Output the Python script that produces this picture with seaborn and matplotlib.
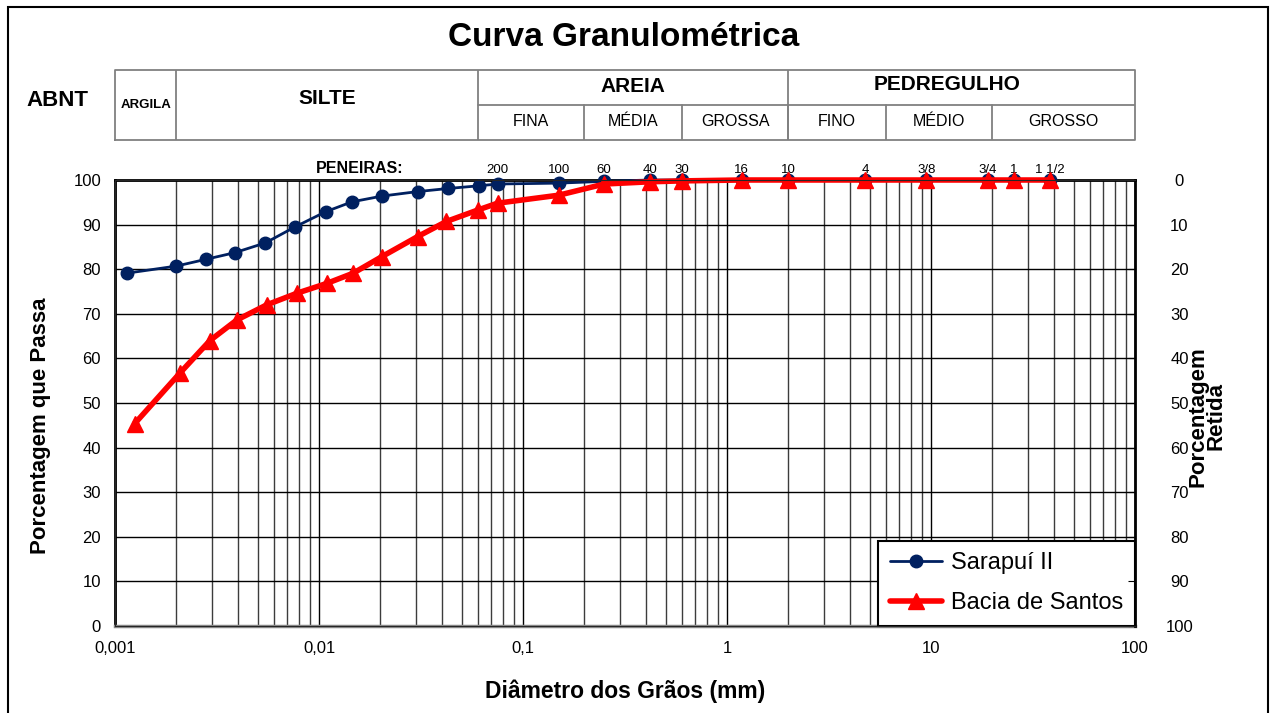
import numpy as np
import matplotlib
matplotlib.use("Agg")
import matplotlib.pyplot as plt
from matplotlib.patches import Rectangle
from matplotlib.ticker import LogLocator, NullFormatter
import seaborn as sns

# Peneiras (sieves) and opening in mm
sieve_names = ['200', '100', '60', '40', '30', '16', '10', '4', '3/8', '3/4', '1', '1 1/2']
sieve_mm = [0.075, 0.15, 0.25, 0.42, 0.6, 1.18, 2.0, 4.75, 9.5, 19.0, 25.4, 38.1]

# Sarapuí II (sedimentation + sieving)
sarapui_mm = [0.00114, 0.0020, 0.00278, 0.00386, 0.00546, 0.00764, 0.0108, 0.0145, 0.0204,
              0.0304, 0.0430, 0.0608, 0.075, 0.15, 0.25, 0.42, 0.6, 1.18, 2.0, 4.75, 9.5,
              19.0, 25.4, 38.1]
sarapui_pct = [79.1, 80.7, 82.2, 83.7, 85.9, 89.5, 92.9, 95.1, 96.4, 97.4, 98.1, 98.7,
               99.1, 99.3, 99.7, 100, 100, 100, 100, 100, 100, 100, 100, 100]

# Bacia de Santos
bacia_mm = [0.00125, 0.00208, 0.00292, 0.00395, 0.00554, 0.00778, 0.0109, 0.0147, 0.0203,
            0.0304, 0.0421, 0.0603, 0.075, 0.15, 0.25, 0.42, 0.6, 1.18, 2.0, 4.75, 9.5,
            19.0, 25.4, 38.1]
bacia_pct = [45.4, 56.7, 64.0, 68.6, 72.0, 74.6, 76.8, 79.1, 82.8, 87.3, 90.7, 93.3,
             94.8, 96.6, 99.1, 99.6, 99.8, 100, 100, 100, 100, 100, 100, 100]

# ABNT classification table
main_names = ['ARGILA', 'SILTE', 'AREIA', 'PEDREGULHO']
main_bounds = [0.001, 0.002, 0.06, 2.0, 100]
sub_names = ['FINA', 'MÉDIA', 'GROSSA', 'FINO', 'MÉDIO', 'GROSSO']
sub_bounds = [0.06, 0.2, 0.6, 2.0, 6.0, 20.0, 100]

x_ticks = [0.001, 0.01, 0.1, 1, 10, 100]
x_ticklabels = ['0,001', '0,01', '0,1', '1', '10', '100']

sns.set_style('white')
plt.rcParams['font.family'] = ['Liberation Sans', 'DejaVu Sans']
plt.rcParams['text.color'] = 'black'
plt.rcParams['axes.labelcolor'] = 'black'
plt.rcParams['xtick.color'] = 'black'
plt.rcParams['ytick.color'] = 'black'

W, H = 1272, 713
fig = plt.figure(figsize=(W / 100, H / 100), dpi=100)
ax = fig.add_axes([115 / W, 87 / H, 1020 / W, 446 / H])

sns.lineplot(x=sarapui_mm, y=sarapui_pct, ax=ax, color='#002060', linewidth=2,
             marker='o', markersize=9, markeredgecolor='#002060', markeredgewidth=1,
             label='Sarapuí II', sort=False, estimator=None, clip_on=False, zorder=3)
sns.lineplot(x=bacia_mm, y=bacia_pct, ax=ax, color='#ff0000', linewidth=4,
             marker='^', markersize=12, markeredgecolor='#ff0000', markeredgewidth=1,
             label='Bacia de Santos', sort=False, estimator=None, clip_on=False, zorder=4)

ax.set_xscale('log')
ax.set_xlim(0.001, 100)
ax.set_ylim(0, 100)
ax.set_xticks(x_ticks)
ax.set_xticklabels(x_ticklabels)
ax.xaxis.set_minor_locator(LogLocator(base=10, subs=np.arange(2, 10)))
ax.xaxis.set_minor_formatter(NullFormatter())
ax.set_yticks(range(0, 101, 10))
ax.set_axisbelow(True)
ax.grid(which='major', axis='x', color='black', lw=1)
ax.grid(which='minor', axis='x', color='#3c3c3c', lw=1)
ax.grid(which='major', axis='y', color='black', lw=1)
ax.tick_params(axis='x', which='both', length=0, labelsize=12, pad=11)
ax.tick_params(axis='y', length=0, labelsize=12, pad=10)

for s in ['left', 'top']:
    ax.spines[s].set_color('black')
    ax.spines[s].set_linewidth(2)
ax.spines['bottom'].set_color('#8c8c8c')
ax.spines['bottom'].set_linewidth(2.5)

ax.set_xlabel('Diâmetro dos Grãos (mm)', fontsize=16.5, fontweight='bold', labelpad=17)
ax.set_ylabel('Porcentagem que Passa', fontsize=16, fontweight='bold')
ax.yaxis.set_label_coords(-0.063, 0.45)

# sieve labels above the plot
for name, d in zip(sieve_names, sieve_mm):
    ax.text(d, 100.9, name, ha='center', va='bottom', fontsize=9.5)
ax.text(0.0159, 100.9, 'PENEIRAS:', ha='center', va='bottom', fontsize=11.5, fontweight='bold')

leg = ax.legend(loc='lower right', borderaxespad=0, frameon=True, fancybox=False,
                edgecolor='black', framealpha=1, fontsize=17, handlelength=2.2,
                borderpad=0.5, labelspacing=0.75, handletextpad=0.4)
leg.get_frame().set_linewidth(1.5)

# right axis: percentage retained
ax2 = ax.twinx()
ax2.set_ylim(100, 0)
ax2.set_yticks(range(0, 101, 10))
ax2.tick_params(axis='y', direction='in', length=5, labelsize=12, pad=32)
for lab in ax2.get_yticklabels():
    lab.set_horizontalalignment('center')
ax2.spines['right'].set_color('black')
ax2.spines['right'].set_linewidth(2)
ax2.set_ylabel('Porcentagem\nRetida', fontsize=16, fontweight='bold', rotation=90,
               linespacing=0.85)
ax2.yaxis.set_label_coords(1.051, 0.47)
ax2.grid(False)

# ABNT table
tax = fig.add_axes([115 / W, 1 - 140 / H, 1020 / W, 70 / H])
tax.set_xscale('log')
tax.set_xlim(0.001, 100)
tax.set_ylim(0, 1)
tax.axis('off')
lc = '#808080'
tax.plot([0.001, 100, 100, 0.001, 0.001], [0, 0, 1, 1, 0], color=lc, lw=1.3, clip_on=False)
for b in main_bounds[1:-1]:
    tax.plot([b, b], [0, 1], color=lc, lw=1.3)
tax.plot([0.06, 100], [0.5, 0.5], color=lc, lw=1.3)
for b in sub_bounds[1:-1]:
    tax.plot([b, b], [0, 0.5], color=lc, lw=1.3)

def gmid(a, b):
    return 10 ** ((np.log10(a) + np.log10(b)) / 2)

tax.text(gmid(main_bounds[0], main_bounds[1]), 0.5, main_names[0], ha='center', va='center',
         fontsize=9.5, fontweight='bold')
tax.text(gmid(main_bounds[1], main_bounds[2]), 0.6, main_names[1], ha='center', va='center',
         fontsize=15, fontweight='bold')
tax.text(gmid(main_bounds[2], main_bounds[3]), 0.77, main_names[2], ha='center', va='center',
         fontsize=15, fontweight='bold')
tax.text(gmid(main_bounds[3], main_bounds[4]) * 0.85, 0.79, main_names[3], ha='center',
         va='center', fontsize=15, fontweight='bold')
for i, name in enumerate(sub_names):
    tax.text(gmid(sub_bounds[i], sub_bounds[i + 1]), 0.27, name, ha='center', va='center',
             fontsize=11.5)

fig.text(57 / W, 1 - 100 / H, 'ABNT', ha='center', va='center', fontsize=16, fontweight='bold')
fig.text(624 / W, 1 - 37 / H, 'Curva Granulométrica', ha='center', va='center',
         fontsize=24, fontweight='bold')

# outer frame
fig.add_artist(Rectangle((8 / W, -0.05), 1260 / W, 1 - 7 / H + 0.05, transform=fig.transFigure,
                         fill=False, ec='black', lw=1.5))

fig.savefig('out.png', dpi=100)
